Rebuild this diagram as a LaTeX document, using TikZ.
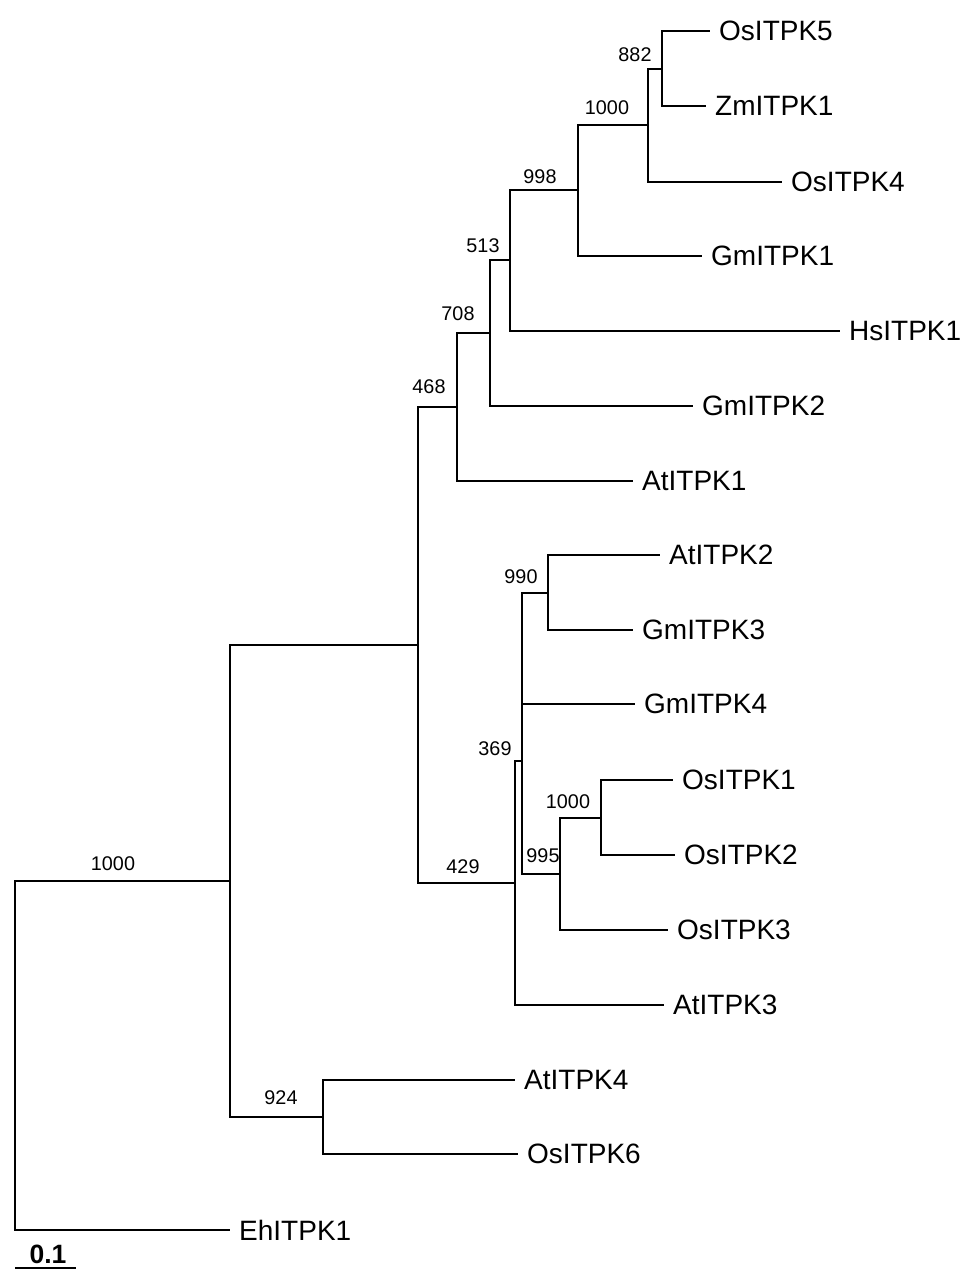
\documentclass[tikz,border=0pt]{standalone}
\usepackage{fontspec}
\setmainfont{Liberation Sans}
\begin{document}
\begin{tikzpicture}[x=1pt,y=-1pt,
  br/.style={line width=1.8pt},
  leaf/.style={anchor=west, inner xsep=9pt, inner ysep=0pt, font=\fontsize{28}{32}\selectfont},
  boot/.style={inner sep=0pt, font=\fontsize{19.8}{24}\selectfont}]
\useasboundingbox (0,0) rectangle (973,1278);
% internal nodes
\coordinate (root) at (15,1055);
\coordinate (nA) at (230,881);
\coordinate (nB) at (418,645);
\coordinate (n468) at (457,407);
\coordinate (n708) at (490,333);
\coordinate (n513) at (510,260);
\coordinate (n998) at (578,190);
\coordinate (n1000a) at (648,125);
\coordinate (n882) at (662,69);
\coordinate (n429) at (515,883);
\coordinate (n369) at (522,761);
\coordinate (n990) at (548,593);
\coordinate (n995) at (560,874);
\coordinate (n1000b) at (601,818);
\coordinate (n924) at (323,1117);
% leaves
\node[leaf] (OsITPK5) at (710,31) {OsITPK5};
\node[leaf] (ZmITPK1) at (706,106) {ZmITPK1};
\node[leaf] (OsITPK4) at (782,182) {OsITPK4};
\node[leaf] (GmITPK1) at (702,256) {GmITPK1};
\node[leaf] (HsITPK1) at (840,331) {HsITPK1};
\node[leaf] (GmITPK2) at (693,406) {GmITPK2};
\node[leaf] (AtITPK1) at (633,481) {AtITPK1};
\node[leaf] (AtITPK2) at (660,555) {AtITPK2};
\node[leaf] (GmITPK3) at (633,630) {GmITPK3};
\node[leaf] (GmITPK4) at (635,704) {GmITPK4};
\node[leaf] (OsITPK1) at (673,780) {OsITPK1};
\node[leaf] (OsITPK2) at (675,855) {OsITPK2};
\node[leaf] (OsITPK3) at (668,930) {OsITPK3};
\node[leaf] (AtITPK3) at (664,1005) {AtITPK3};
\node[leaf] (AtITPK4) at (515,1080) {AtITPK4};
\node[leaf] (OsITPK6) at (518,1154) {OsITPK6};
\node[leaf] (EhITPK1) at (230,1230) {EhITPK1};
% branches
\draw[br] (root) |- (nA);
\draw[br] (root) |- (EhITPK1.west);
\draw[br] (nA) |- (nB);
\draw[br] (nA) |- (n924);
\draw[br] (n924) |- (AtITPK4.west);
\draw[br] (n924) |- (OsITPK6.west);
\draw[br] (nB) |- (n468);
\draw[br] (nB) |- (n429);
\draw[br] (n468) |- (n708);
\draw[br] (n468) |- (AtITPK1.west);
\draw[br] (n708) |- (n513);
\draw[br] (n708) |- (GmITPK2.west);
\draw[br] (n513) |- (n998);
\draw[br] (n513) |- (HsITPK1.west);
\draw[br] (n998) |- (n1000a);
\draw[br] (n998) |- (GmITPK1.west);
\draw[br] (n1000a) |- (n882);
\draw[br] (n1000a) |- (OsITPK4.west);
\draw[br] (n882) |- (OsITPK5.west);
\draw[br] (n882) |- (ZmITPK1.west);
\draw[br] (n429) |- (n369);
\draw[br] (n429) |- (AtITPK3.west);
\draw[br] (n369) |- (n990);
\draw[br] (n369) |- (GmITPK4.west);
\draw[br] (n369) |- (n995);
\draw[br] (n990) |- (AtITPK2.west);
\draw[br] (n990) |- (GmITPK3.west);
\draw[br] (n995) |- (n1000b);
\draw[br] (n995) |- (OsITPK3.west);
\draw[br] (n1000b) |- (OsITPK1.west);
\draw[br] (n1000b) |- (OsITPK2.west);
% bootstrap values
\node[boot] (b882) at (635,55) {882};
\node[boot] (b1000a) at (607,108) {1000};
\node[boot] (b998) at (540,177) {998};
\node[boot] (b513) at (483,246) {513};
\node[boot] (b708) at (458,314) {708};
\node[boot] (b468) at (429,387) {468};
\node[boot] (b429) at (463,867) {429};
\node[boot] (b369) at (495,749) {369};
\node[boot] (b990) at (521,577) {990};
\node[boot] (b995) at (543,856) {995};
\node[boot] (b1000b) at (568,802) {1000};
\node[boot] (b1000r) at (113,864) {1000};
\node[boot] (b924) at (281,1098) {924};
% scale bar
\coordinate (sb1) at (15,1268);
\coordinate (sb2) at (76,1268);
\draw[br] (sb1) -- (sb2);
\node[inner sep=0pt, font=\fontsize{26.5}{30}\selectfont\bfseries] (sblabel) at (48,1254) {0.1};
\end{tikzpicture}
\end{document}
